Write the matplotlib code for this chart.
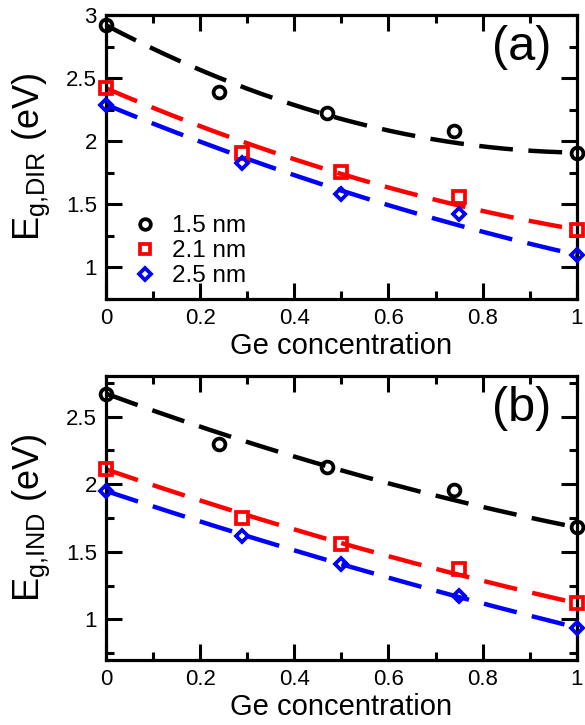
import numpy as np
import matplotlib
matplotlib.use("Agg")
import matplotlib.pyplot as plt
from matplotlib.ticker import MultipleLocator, FormatStrFormatter

plt.rcParams["font.family"] = ["Liberation Sans", "DejaVu Sans"]
plt.rcParams["mathtext.default"] = "regular"

# Ge fraction of the computed wires
x_15 = [0.0, 0.24, 0.47, 0.74, 1.0]
x_21 = [0.0, 0.29, 0.50, 0.75, 1.0]
x_25 = [0.0, 0.29, 0.50, 0.75, 1.0]

# direct gaps (eV)
dir_15 = [2.92, 2.39, 2.22, 2.08, 1.91]
dir_21 = [2.42, 1.91, 1.76, 1.56, 1.30]
dir_25 = [2.29, 1.83, 1.58, 1.42, 1.10]

# indirect gaps (eV)
ind_15 = [2.67, 2.30, 2.13, 1.96, 1.68]
ind_21 = [2.11, 1.75, 1.56, 1.37, 1.12]
ind_25 = [1.95, 1.62, 1.41, 1.17, 0.94]

labels = ["1.5 nm", "2.1 nm", "2.5 nm"]
colors = ["black", "#ff0000", "#0000ff"]
markers = ["o", "s", "D"]
msizes = [8.5, 8.5, 6.5]

fig = plt.figure(figsize=(5.85, 7.25), dpi=100)
ax_a = fig.add_axes([0.181, 0.5876, 0.805, 0.3917])
ax_b = fig.add_axes([0.181, 0.0897, 0.805, 0.3917])

xs = np.linspace(0, 1, 200)


def bowing_curve(x, y):
    """Vegard line between the Si and Ge ends minus a fitted bowing term."""
    x = np.asarray(x)
    y = np.asarray(y)
    e0, e1 = y[0], y[-1]
    w = x * (1 - x)
    r = (1 - x) * e0 + x * e1 - y
    b = np.sum(w * r) / np.sum(w * w)
    return (1 - xs) * e0 + xs * e1 - b * xs * (1 - xs)


def panel(ax, series, ylim, ylabel, tag):
    for (x, y), c, m, ms, lab in zip(series, colors, markers, msizes, labels):
        ax.plot(xs, bowing_curve(x, y), color=c, lw=3.2, dashes=(7.6, 3.5),
                dash_capstyle="butt", zorder=2)
        ax.plot(x, y, ls="none", marker=m, ms=ms, mew=2.7, mec=c, mfc="none",
                label=lab, clip_on=False, zorder=3)
    ax.set_xlim(0, 1)
    ax.set_ylim(*ylim)
    ax.xaxis.set_major_locator(MultipleLocator(0.2))
    ax.xaxis.set_minor_locator(MultipleLocator(0.1))
    ax.yaxis.set_major_locator(MultipleLocator(0.5))
    ax.yaxis.set_minor_locator(MultipleLocator(0.25))
    ax.xaxis.set_major_formatter(FormatStrFormatter("%g"))
    ax.yaxis.set_major_formatter(FormatStrFormatter("%g"))
    ax.tick_params(which="both", direction="in", top=True, right=True, width=2.2)
    ax.tick_params(which="major", length=11.5, labelsize=16, pad=6.5)
    ax.tick_params(which="minor", length=6)
    for s in ax.spines.values():
        s.set_linewidth(2.3)
    ax.set_xlabel("Ge concentration", fontsize=21, labelpad=2)
    ax.set_ylabel(ylabel, fontsize=26)
    ax.yaxis.set_label_coords(-0.115, 0.5)
    ax.text(0.883, 0.885, tag, transform=ax.transAxes, fontsize=35,
            ha="center", va="center")


panel(ax_a, [(x_15, dir_15), (x_21, dir_21), (x_25, dir_25)], (0.75, 3.0),
      r"$E_{g{,}DIR}$ (eV)", "(a)")
panel(ax_b, [(x_15, ind_15), (x_21, ind_21), (x_25, ind_25)], (0.7, 2.8),
      r"$E_{g{,}IND}$ (eV)", "(b)")

ax_a.legend(loc="lower left", bbox_to_anchor=(0.063, 0.042), frameon=False,
            fontsize=17.5, handlelength=0.8, handletextpad=0.7,
            labelspacing=0.12, borderpad=0, borderaxespad=0, markerscale=0.9)

fig.savefig("out.png", dpi=100)
